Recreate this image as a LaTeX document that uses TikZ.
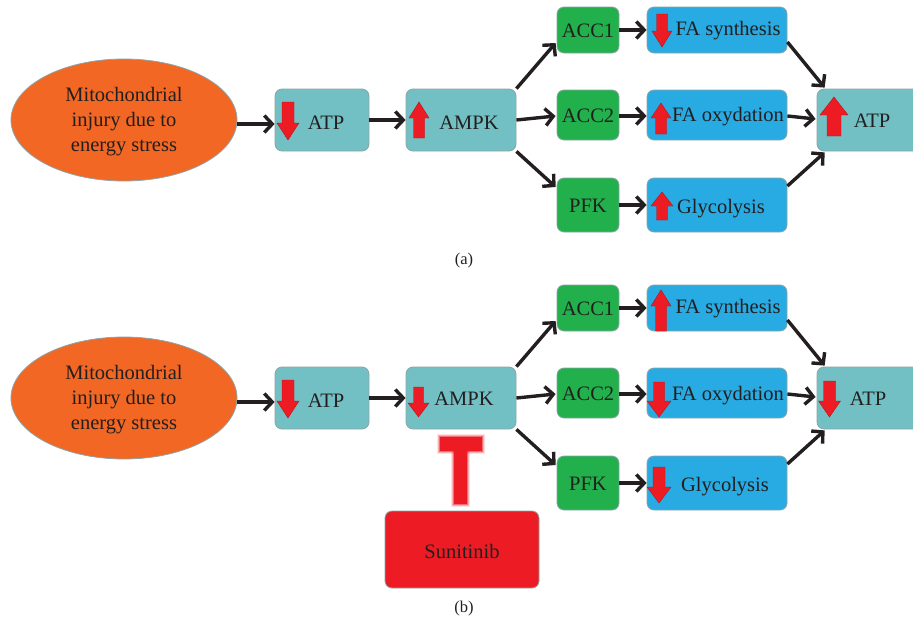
\documentclass[tikz,border=0pt]{standalone}
\usepackage{fontspec}
\setmainfont{Liberation Serif}
\usetikzlibrary{arrows.meta,shapes.geometric,calc}
\definecolor{orng}{RGB}{242,103,36}
\definecolor{tealbox}{RGB}{115,192,196}
\definecolor{grn}{RGB}{33,176,75}
\definecolor{blu}{RGB}{40,170,226}
\definecolor{rd}{RGB}{237,28,36}
\definecolor{txt}{RGB}{35,31,32}
\definecolor{edge}{RGB}{140,165,168}
\tikzset{
  boxbase/.style={draw=edge, line width=0.8pt, rounded corners=7pt, inner sep=0pt},
  lbl/.style={anchor=base, inner sep=0pt, text=txt, font=\fontsize{20.5}{25}\selectfont},
  conn/.style={line width=3.4pt, draw=txt, -{Straight Barb[length=8pt,width=17pt]}},
  redarr/.style={fill=rd, draw=rd!75!black, line width=0.4pt},
}
% box: name, x1, y1, x2, y2, colour
\newcommand\mkbox[6]{%
  \node[boxbase, fill=#6, minimum width={((#4)-(#2))*1pt}, minimum height={((#5)-(#3))*1pt}]
    (#1) at ({((#2)+(#4))/2},{((#3)+(#5))/2}) {};}
% block arrow: cx, tail y, tip y, half head width, half shaft width, signed head length
\newcommand\blockarr[6]{%
  \filldraw[redarr] ({#1-#5},#2) -- ({#1+#5},#2) -- ({#1+#5},{#3-#6}) -- ({#1+#4},{#3-#6})
    -- (#1,#3) -- ({#1-#4},{#3-#6}) -- ({#1-#5},{#3-#6}) -- cycle;}
\newcommand\mypanel[2]{%
  \node[ellipse, draw=edge, line width=0.8pt, fill=orng, minimum width=226pt, minimum height=122pt, inner sep=0pt]
    (#1mito) at (124,{120+#2}) {};
  \node[lbl, align=center, anchor=base] (#1mitot) at (124,{151+#2}) {Mitochondrial\\injury due to\\energy stress};
  \mkbox{#1atp}{275}{89+#2}{369}{151+#2}{tealbox}
  \mkbox{#1ampk}{406}{89+#2}{516}{151+#2}{tealbox}
  \mkbox{#1acca}{557}{7+#2}{619}{53+#2}{grn}
  \mkbox{#1accb}{557}{90+#2}{619}{140+#2}{grn}
  \mkbox{#1pfk}{557}{178+#2}{619}{232+#2}{grn}
  \mkbox{#1fas}{647}{7+#2}{787}{53+#2}{blu}
  \mkbox{#1fao}{647}{90+#2}{787}{140+#2}{blu}
  \mkbox{#1gly}{647}{178+#2}{787}{232+#2}{blu}
  \mkbox{#1atpr}{817}{89+#2}{925}{151+#2}{tealbox}
  \node[lbl] (#1acct) at (588,{37+#2}) {ACC1};
  \node[lbl] (#1accbt) at (588,{122+#2}) {ACC2};
  \node[lbl] (#1pfkt) at (588,{212+#2}) {PFK};
  \draw[conn] (#1mito.east |- 0,{124+#2}) -- (#1atp.west |- 0,{124+#2});
  \draw[conn] (#1atp.east |- 0,{120+#2}) -- (#1ampk.west |- 0,{120+#2});
  \draw[conn] (#1ampk.north east) -- ($(#1acca.west)+(-1,13)$);
  \draw[conn] (#1ampk.east |- 0,{120+#2}) -- ($(#1accb.west)+(-1,1)$);
  \draw[conn] (#1ampk.south east) -- ($(#1pfk.west)+(-1,-18)$);
  \draw[conn] (#1acca.east |- 0,{30+#2}) -- (#1fas.west |- 0,{30+#2});
  \draw[conn] (#1accb.east |- 0,{116+#2}) -- (#1fao.west |- 0,{116+#2});
  \draw[conn] (#1pfk.east |- 0,{205+#2}) -- (#1gly.west |- 0,{205+#2});
  \draw[conn] ($(#1fas.east)+(0,12)$) -- ($(#1atpr.north west)+(8,-1)$);
  \draw[conn] (#1fao.east |- 0,{116+#2}) -- ($(#1atpr.west)+(-1,-1)$);
  \draw[conn] ($(#1gly.east)+(0,-19)$) -- ($(#1atpr.south west)+(8,1)$);
}
\begin{document}
\begin{tikzpicture}[x=1pt,y=-1pt]
\useasboundingbox (0,0) rectangle (913,629);
\begin{scope}
\clip (0,0) rectangle (913,629);
% ---------- panel (a) ----------
\mypanel{a}{0}
\blockarr{288}{102}{140}{11}{6}{17}
\node[lbl] (aatpt) at (326,129) {ATP};
\blockarr{419}{138}{102}{10}{5.5}{-16}
\node[lbl] (aampkt) at (469,129) {AMPK};
\blockarr{662}{14}{47}{10}{5.5}{16}
\node[lbl] (afast) at (728,35) {FA synthesis};
\blockarr{661}{134}{103}{10}{5.5}{-15}
\node[lbl] (afaot) at (728,121) {FA oxydation};
\blockarr{662}{220}{192}{11}{5.5}{-14}
\node[lbl] (aglyt) at (721,213) {Glycolysis};
\blockarr{834}{136}{97}{14}{7}{-18}
\node[lbl] (aatprt) at (872,127) {ATP};
\node[anchor=base, text=txt, font=\fontsize{16.5}{18}\selectfont] (alab) at (464,264) {(a)};
% ---------- panel (b) ----------
\mypanel{b}{278}
\blockarr{288}{380}{418}{11}{6}{17}
\node[lbl] (batpt) at (326,407) {ATP};
\blockarr{418.5}{387}{417}{10.5}{5}{14}
\node[lbl] (bampkt) at (464,405) {AMPK};
\blockarr{661}{331}{290}{10}{5.5}{-16}
\node[lbl] (bfast) at (728,313) {FA synthesis};
\blockarr{659}{382}{417}{12}{5.5}{16}
\node[lbl] (bfaot) at (728,400) {FA oxydation};
\blockarr{659}{467}{503}{12}{6}{16}
\node[lbl] (bglyt) at (725,491) {Glycolysis};
\blockarr{829.5}{381}{417}{11}{6}{16}
\node[lbl] (batprt) at (868,405) {ATP};
% inhibition bar
\foreach \g/\op in {3/0.12,2/0.25,1/0.45}{
  \fill[rd, opacity=\op] ({440-\g},{437-\g}) rectangle ({482+\g},{451+\g});
  \fill[rd, opacity=\op] ({454-\g},451) rectangle ({467+\g},{504+\g});
}
\fill[rd] (440,437) rectangle (482,451);
\fill[rd] (454,450) rectangle (467,504);
\mkbox{suni}{385}{511}{539}{588}{rd}
\node[lbl] (sunit) at (462,558) {Sunitinib};
\node[anchor=base, text=txt, font=\fontsize{16.5}{18}\selectfont] (blab) at (464,612) {(b)};
\end{scope}
\end{tikzpicture}
\end{document}
